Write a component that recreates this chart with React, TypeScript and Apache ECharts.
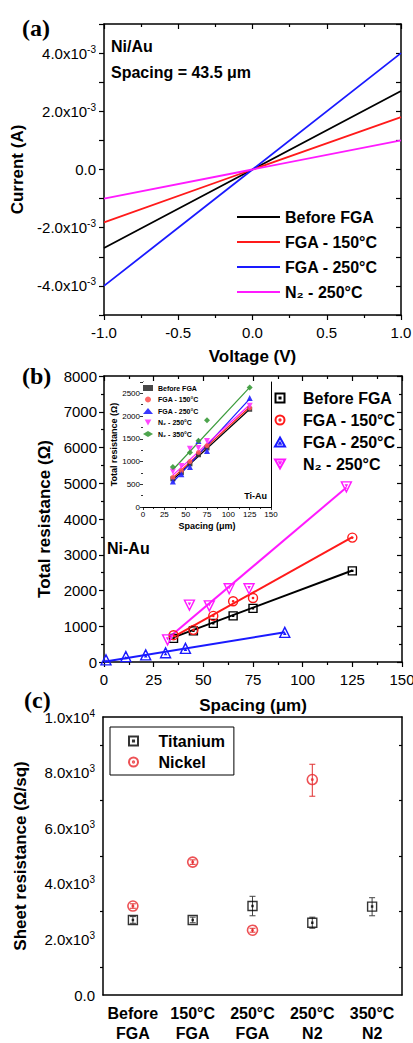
import React, { useEffect, useRef } from 'react';
import * as echarts from 'echarts';

const FONT = "'Liberation Sans', Arial, Helvetica, sans-serif";
const SERIF = "'Liberation Serif', 'Times New Roman', serif";

// ---------- Panel (a): I-V curves, Ni/Au, spacing 43.5 um ----------
const voltage = [-1, 0, 1];
const currentBefore = [-2.7e-3, 0, 2.7e-3];
const current150 = [-1.82e-3, 0, 1.8e-3];
const current250 = [-4.0e-3, 0, 4.0e-3];
const currentN2 = [-1.0e-3, 0, 1.0e-3];

// ---------- Panel (b): total resistance vs spacing, Ni-Au ----------
const niBefore = [[35, 660], [45, 870], [55, 1080], [65, 1290], [75, 1500], [125, 2550]];
const ni150 = [[35, 750], [45, 900], [55, 1290], [65, 1700], [75, 1790], [125, 3480]];
const ni250 = [[1, 60], [11, 150], [21, 200], [31, 260], [41, 380], [91, 830]];
const niN2 = [[32, 620], [43, 1590], [53, 1570], [63, 2050], [73, 2050], [122, 4900]];
const niFitBefore = [[35, 690], [125, 2560]];
const niFit150 = [[35, 700], [125, 3490]];
const niFit250 = [[0, 10], [91, 830]];
const niFitN2 = [[33, 700], [122, 4880]];

// ---------- Inset: Ti-Au ----------
const tiBefore = [[35, 620], [45, 760], [55, 950], [65, 1150], [75, 1300], [125, 2150]];
const ti150 = [[35, 650], [45, 800], [55, 1000], [65, 1200], [75, 1350], [125, 2180]];
const ti250 = [[35, 560], [45, 720], [55, 880], [65, 1450], [75, 1230], [125, 2400]];
const tiN2 = [[35, 780], [45, 900], [55, 1280], [65, 1300], [75, 1450], [125, 2230]];
const tiN350 = [[35, 880], [55, 1200], [65, 1460], [75, 1910], [125, 2630]];
const tiFitBefore = [[35, 600], [125, 2150]];
const tiFit150 = [[35, 640], [125, 2200]];
const tiFit250 = [[35, 540], [125, 2380]];
const tiFitN2 = [[35, 700], [125, 2250]];
const tiFitN350 = [[35, 820], [125, 2630]];

// ---------- Panel (c): sheet resistance ----------
const conditions = ['Before\nFGA', '150°C\nFGA', '250°C\nFGA', '250°C\nN2', '350°C\nN2'];
const titanium = [2700, 2700, 3200, 2600, 3180];
const titaniumLow = [2580, 2600, 2850, 2400, 2850];
const titaniumHigh = [2820, 2800, 3550, 2800, 3500];
const nickel: (number | string)[] = [3200, 4780, 2330, 7750, '-'];
const nickelLow = [3120, 4700, 2260, 7150];
const nickelHigh = [3280, 4860, 2400, 8300];

const LABELS: Record<string, string> = {
  a_before: 'Before FGA',
  a_150: 'FGA - 150°C',
  a_250: 'FGA - 250°C',
  a_n2: 'N₂ - 250°C',
  b_before: 'Before FGA',
  b_150: 'FGA - 150°C',
  b_250: 'FGA - 250°C',
  b_n2: 'N₂ - 250°C',
  i_before: 'Before FGA',
  i_150: 'FGA - 150°C',
  i_250: 'FGA - 250°C',
  i_n2: 'N₂ - 250°C',
  i_n350: 'N₂ - 350°C',
  c_ti: 'Titanium',
  c_ni: 'Nickel',
};

const SQ_DOT = 'path://M0,0H10V10H0Z M4.4,4.4H5.6V5.6H4.4Z';
const CIRC_DOT = 'path://M5,0A5,5 0 1,1 5,10A5,5 0 1,1 5,0Z M5,4.3A0.7,0.7 0 1,1 5,5.7A0.7,0.7 0 1,1 5,4.3Z';
const TRI_UP = 'path://M5,0L10,9L0,9Z M5,5.2L5.6,6.2L4.4,6.2Z';
const TRI_DOWN = 'path://M0,0L10,0L5,9Z M4.4,2.8L5.6,2.8L5,3.8Z';
const TRI_DOWN_FILL = 'path://M0,0L10,0L5,9Z';

const BLACK = '#000000';
const RED = '#ff1a1a';
const BLUE = '#1a1aff';
const MAGENTA = '#ff1aff';
const GREEN = '#3a9a3a';

const SUP_RICH = {
  m: { fontSize: 15, fontFamily: FONT, color: '#000', lineHeight: 18 },
  s: { fontSize: 10, fontFamily: FONT, color: '#000', verticalAlign: 'top', lineHeight: 11 },
};

function pairs(xs: number[], ys: number[]) {
  return xs.map((x, i) => [x, ys[i]]);
}

interface AxOpts {
  min?: number;
  max?: number;
  interval?: number;
  fontSize?: number;
  margin?: number;
  formatter?: any;
  rich?: any;
  name?: string;
  nameGap?: number;
  nameSize?: number;
  lw?: number;
  tl?: number;
  ml?: number;
  minor?: boolean;
  showMaxLabel?: boolean;
}

const plain = (v: number) => String(Math.round(v * 100) / 100);

function valueAxisPair(dim: 'x' | 'y', gridIndex: number, o: AxOpts) {
  const lw = o.lw ?? 1.5;
  const common = {
    type: 'value',
    gridIndex,
    min: o.min,
    max: o.max,
    interval: o.interval,
    splitLine: { show: false },
    axisLine: { show: true, onZero: false, lineStyle: { color: '#000', width: lw } },
  };
  const tick = { length: o.tl ?? 5, lineStyle: { color: '#000', width: lw * 0.8 } };
  const minor = {
    show: o.minor ?? true,
    splitNumber: 2,
    length: o.ml ?? 3,
    lineStyle: { color: '#000', width: lw * 0.8 },
  };
  const main = {
    ...common,
    position: dim === 'x' ? 'bottom' : 'left',
    axisTick: { ...tick, inside: false },
    minorTick: minor,
    axisLabel: {
      show: true,
      margin: o.margin ?? 8,
      fontSize: o.fontSize ?? 15,
      color: '#000',
      fontFamily: FONT,
      formatter: o.formatter ?? plain,
      rich: o.rich,
      showMaxLabel: o.showMaxLabel,
    },
    name: o.name,
    nameLocation: 'middle',
    nameGap: o.nameGap,
    nameTextStyle: {
      fontSize: o.nameSize ?? 17,
      fontWeight: 'bold',
      color: '#000',
      fontFamily: FONT,
    },
  };
  const mirror = {
    ...common,
    position: dim === 'x' ? 'top' : 'right',
    axisTick: { ...tick, inside: true },
    minorTick: minor,
    axisLabel: { show: false },
  };
  return [main, mirror];
}

function categoryAxisPair(gridIndex: number) {
  const common = {
    type: 'category',
    gridIndex,
    data: conditions,
    boundaryGap: true,
    splitLine: { show: false },
    axisLine: { show: true, onZero: false, lineStyle: { color: '#000', width: 1.5 } },
  };
  const tick = { alignWithLabel: true, length: 5, lineStyle: { color: '#000', width: 1.2 } };
  return [
    {
      ...common,
      position: 'bottom',
      axisTick: { ...tick, inside: false },
      axisLabel: {
        margin: 8,
        fontSize: 16,
        lineHeight: 20,
        fontWeight: 'bold',
        color: '#000',
        fontFamily: FONT,
        interval: 0,
      },
    },
    {
      ...common,
      position: 'top',
      axisTick: { ...tick, inside: true },
      axisLabel: { show: false },
    },
  ];
}

function fmtA(v: number) {
  const n = Math.round(v * 1000);
  if (n % 2 !== 0) return '';
  if (n === 0) return '{m|0.0}';
  return `{m|${n.toFixed(1)}x10}{s|-3}`;
}

function fmtC(v: number) {
  if (v === 0) return '{m|0.0}';
  if (v >= 10000) return `{m|${(v / 10000).toFixed(1)}x10}{s|4}`;
  return `{m|${(v / 1000).toFixed(1)}x10}{s|3}`;
}

function errorBars(name: string, low: number[], high: number[], color: string) {
  return {
    type: 'custom',
    name,
    xAxisIndex: 6,
    yAxisIndex: 6,
    z: 1,
    silent: true,
    data: low.map((l, i) => [i, l, high[i]]),
    encode: { x: 0, y: [1, 2] },
    renderItem: (_p: any, api: any) => {
      const x = api.value(0);
      const lo = api.coord([x, api.value(1)]);
      const hi = api.coord([x, api.value(2)]);
      const w = 3;
      const style = { stroke: color, lineWidth: 1 };
      return {
        type: 'group',
        children: [
          { type: 'line', shape: { x1: lo[0], y1: lo[1], x2: hi[0], y2: hi[1] }, style },
          { type: 'line', shape: { x1: hi[0] - w, y1: hi[1], x2: hi[0] + w, y2: hi[1] }, style },
          { type: 'line', shape: { x1: lo[0] - w, y1: lo[1], x2: lo[0] + w, y2: lo[1] }, style },
        ],
      };
    },
  };
}

function buildOption() {
  const axA = [
    valueAxisPair('x', 0, {
      min: -1, max: 1, interval: 0.5, margin: 10,
      formatter: (v: number) => v.toFixed(1),
      name: 'Voltage (V)', nameGap: 33,
    }),
    valueAxisPair('y', 0, {
      min: -0.005, max: 0.005, interval: 0.001, minor: false, margin: 8,
      formatter: fmtA, rich: SUP_RICH, name: 'Current (A)', nameGap: 77,
    }),
  ];
  const axB = [
    valueAxisPair('x', 1, {
      min: 0, max: 150, interval: 25, margin: 10,
      name: 'Spacing (μm)', nameGap: 35,
    }),
    valueAxisPair('y', 1, {
      min: 0, max: 8000, interval: 1000, margin: 7,
      name: 'Total resistance (Ω)', nameGap: 51,
    }),
  ];
  const axI = [
    valueAxisPair('x', 2, {
      min: 0, max: 150, interval: 25, margin: 3, fontSize: 8, lw: 1, tl: 3, ml: 2,
      name: 'Spacing (μm)', nameGap: 14, nameSize: 9,
    }),
    valueAxisPair('y', 2, {
      min: 0, max: 2750, interval: 500, margin: 3, fontSize: 8, lw: 1, tl: 3, ml: 2,
      showMaxLabel: false, name: 'Total resistance (Ω)', nameGap: 25, nameSize: 9,
    }),
  ];
  const axC = [
    categoryAxisPair(3),
    valueAxisPair('y', 3, {
      min: 0, max: 10000, interval: 2000, margin: 8,
      formatter: fmtC, rich: SUP_RICH, name: 'Sheet resistance (Ω/sq)', nameGap: 74,
    }),
  ];

  const xAxis = [...axA[0], ...axB[0], ...axI[0], ...axC[0]];
  const yAxis = [...axA[1], ...axB[1], ...axI[1], ...axC[1]];

  const lineA = (name: string, ys: number[], color: string) => ({
    type: 'line', name, xAxisIndex: 0, yAxisIndex: 0,
    data: pairs(voltage, ys), symbol: 'none',
    lineStyle: { color, width: 1.8 }, itemStyle: { color },
  });

  const scatterB = (name: string, data: number[][], symbol: string, size: number, color: string) => ({
    type: 'scatter', name, xAxisIndex: 2, yAxisIndex: 2, z: 3,
    data, symbol, symbolSize: size,
    itemStyle: { color: 'rgba(255,255,255,0)', borderColor: color, borderWidth: 1.4, opacity: 1 },
  });
  const fitB = (name: string, data: number[][], color: string) => ({
    type: 'line', name, xAxisIndex: 2, yAxisIndex: 2, z: 2,
    data, symbol: 'none', lineStyle: { color, width: 2 }, itemStyle: { color },
  });

  const scatterI = (name: string, data: number[][], symbol: string, size: number, color: string) => ({
    type: 'scatter', name, xAxisIndex: 4, yAxisIndex: 4, z: 5,
    data, symbol, symbolSize: size,
    itemStyle: { color, opacity: 0.9 },
  });
  const fitI = (name: string, data: number[][], color: string) => ({
    type: 'line', name, xAxisIndex: 4, yAxisIndex: 4, z: 4,
    data, symbol: 'none', lineStyle: { color, width: 1.2 }, itemStyle: { color },
  });

  const series: any[] = [
    lineA('a_before', currentBefore, BLACK),
    lineA('a_150', current150, RED),
    lineA('a_250', current250, BLUE),
    lineA('a_n2', currentN2, MAGENTA),

    fitB('b_fit_before', niFitBefore, BLACK),
    fitB('b_fit_150', niFit150, RED),
    fitB('b_fit_250', niFit250, BLUE),
    fitB('b_fit_n2', niFitN2, MAGENTA),
    scatterB('b_before', niBefore, SQ_DOT, 8, BLACK),
    scatterB('b_150', ni150, CIRC_DOT, 9, RED),
    scatterB('b_250', ni250, TRI_UP, 10, BLUE),
    scatterB('b_n2', niN2, TRI_DOWN, 10, MAGENTA),

    fitI('i_fit_before', tiFitBefore, BLACK),
    fitI('i_fit_150', tiFit150, RED),
    fitI('i_fit_250', tiFit250, BLUE),
    fitI('i_fit_n2', tiFitN2, MAGENTA),
    fitI('i_fit_n350', tiFitN350, GREEN),
    scatterI('i_before', tiBefore, 'rect', 5, '#333333'),
    scatterI('i_150', ti150, 'circle', 5, '#ff5555'),
    scatterI('i_250', ti250, 'triangle', 6, '#2222ff'),
    scatterI('i_n2', tiN2, TRI_DOWN_FILL, 6, '#ff33ff'),
    scatterI('i_n350', tiN350, 'diamond', 6, GREEN),

    errorBars('c_ti_err', titaniumLow, titaniumHigh, '#444444'),
    errorBars('c_ni_err', nickelLow, nickelHigh, '#e03030'),
    {
      type: 'scatter', name: 'c_ti', xAxisIndex: 6, yAxisIndex: 6, z: 3,
      data: titanium, symbol: SQ_DOT, symbolSize: 9,
      itemStyle: { color: 'rgba(255,255,255,0)', borderColor: BLACK, borderWidth: 1.4 },
    },
    {
      type: 'scatter', name: 'c_ni', xAxisIndex: 6, yAxisIndex: 6, z: 3,
      data: nickel, symbol: CIRC_DOT, symbolSize: 10,
      itemStyle: { color: 'rgba(255,255,255,0)', borderColor: '#e8262a', borderWidth: 1.6 },
    },
  ];

  const legendText = (size: number, lh: number, pad = 0) => ({
    fontSize: size, fontWeight: 'bold', color: '#000', fontFamily: FONT,
    lineHeight: lh, padding: [0, 0, 0, pad],
  });
  const fmt = (n: string) => LABELS[n] ?? n;

  const legend = [
    {
      data: ['a_before', 'a_150', 'a_250', 'a_n2'],
      orient: 'vertical', left: 237, top: 209, padding: 0,
      itemWidth: 43, itemHeight: 2, icon: 'rect', itemGap: 9,
      selectedMode: false, formatter: fmt, textStyle: legendText(16, 16),
    },
    {
      data: ['b_before', 'b_150', 'b_250', 'b_n2'],
      orient: 'vertical', left: 274, top: 390, padding: 0,
      itemWidth: 10, itemHeight: 9, itemGap: 6,
      selectedMode: false, formatter: fmt, textStyle: legendText(16, 16, 13),
    },
    {
      data: ['i_before', 'i_150', 'i_250', 'i_n2', 'i_n350'],
      orient: 'vertical', left: 143, top: 384, padding: 0,
      itemWidth: 10, itemHeight: 6, itemGap: 3.5,
      selectedMode: false, formatter: fmt, textStyle: legendText(7, 8),
    },
    {
      data: ['c_ti', 'c_ni'],
      orient: 'vertical', left: 110, top: 727, padding: [6, 9, 5, 18],
      borderColor: '#000', borderWidth: 1, backgroundColor: '#fff',
      itemWidth: 10, itemHeight: 9, itemGap: 5,
      selectedMode: false, formatter: fmt, textStyle: legendText(16, 16, 15),
    },
  ];

  const txt = (text: string, x: number, y: number, font: string, align = 'left') => ({
    type: 'text', x, y, z: 10,
    style: { text, font, fill: '#000', verticalAlign: 'middle', align },
  });

  const graphic = [
    txt('(a)', 22, 28, `bold 24px ${SERIF}`),
    txt('(b)', 22, 376, `bold 24px ${SERIF}`),
    txt('(c)', 24, 700, `bold 24px ${SERIF}`),
    txt('Ni/Au', 111, 46, `bold 16px ${FONT}`),
    txt('Spacing = 43.5 μm', 111, 72, `bold 16px ${FONT}`),
    txt('Ni-Au', 107, 548, `bold 16px ${FONT}`),
    txt('Ti-Au', 267, 496, `bold 9px ${FONT}`, 'right'),
  ];

  return {
    animation: false,
    backgroundColor: '#ffffff',
    textStyle: { fontFamily: FONT },
    grid: [
      { left: 104, top: 24, width: 297, height: 291, outerBoundsMode: 'none' },
      { left: 104, top: 376, width: 298, height: 286, outerBoundsMode: 'none' },
      {
        left: 143, top: 382, width: 128, height: 125, outerBoundsMode: 'none',
        show: true, backgroundColor: '#ffffff', borderWidth: 0, z: 1,
      },
      { left: 103, top: 717, width: 299, height: 278, outerBoundsMode: 'none' },
    ],
    xAxis,
    yAxis,
    legend,
    series,
    graphic,
  };
}

export default function App() {
  const ref = useRef<HTMLDivElement>(null);
  useEffect(() => {
    if (!ref.current) return;
    const chart = echarts.init(ref.current, undefined, { renderer: 'svg' });
    chart.setOption(buildOption() as any);
    return () => {
      chart.dispose();
    };
  }, []);
  return (
    <div
      ref={ref}
      style={{ position: 'absolute', left: 0, top: 0, width: 413, height: 1043, background: '#fff' }}
    />
  );
}
